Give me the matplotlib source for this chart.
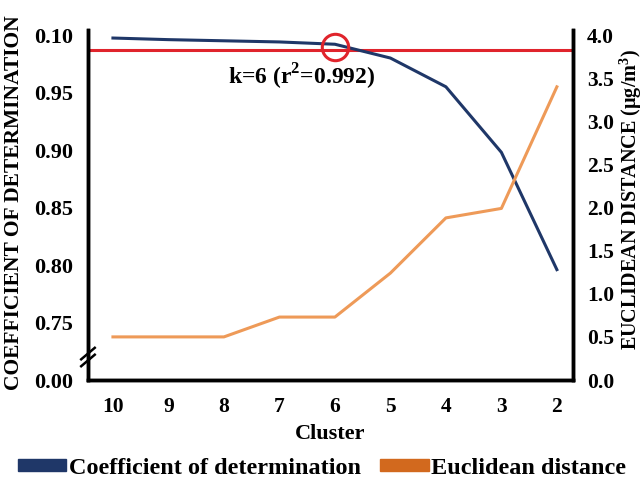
import matplotlib.pyplot as plt
import numpy as np

# Data
clusters = ["10", "9", "8", "7", "6", "5", "4", "3", "2"]
r_squared = [0.9974, 0.996, 0.995, 0.994, 0.992, 0.980, 0.955, 0.898, 0.796]
euclid_dist = [0.50, 0.50, 0.50, 0.73, 0.73, 1.24, 1.88, 1.99, 3.40]
left_ticks = [0.70, 0.75, 0.80, 0.85, 0.90, 0.95, 1.00]
left_tick_labels = ["0.00", "0.75", "0.80", "0.85", "0.90", "0.95", "0.10"]
right_ticks = [0.0, 0.5, 1.0, 1.5, 2.0, 2.5, 3.0, 3.5, 4.0]
threshold = 0.987
chosen_k = "6"

plt.rcParams["font.family"] = ["Liberation Serif", "DejaVu Serif"]
plt.rcParams["font.weight"] = "bold"
plt.rcParams["mathtext.fontset"] = "custom"
plt.rcParams["mathtext.bf"] = "Liberation Serif:bold"
plt.rcParams["mathtext.rm"] = "Liberation Serif:bold"

blue = "#1F3768"
orange = "#EE9A58"
orange_patch = "#D2691E"
red = "#E0242C"

fig = plt.figure(figsize=(6.44, 4.8), dpi=100)
ax = fig.add_axes([0.1366, 0.2083, 0.7531, 0.729])
ax2 = ax.twinx()

x = np.arange(len(clusters))

# Coefficient of determination
ax.plot(x, r_squared, color=blue, lw=2.2, zorder=3)
# threshold line and chosen k marker
ax.axhline(threshold, color=red, lw=2.2, zorder=2)
ki = clusters.index(chosen_k)
ax.plot(x[ki], threshold + 0.0025, "o", ms=19, mfc="none", mec=red, mew=2.2, zorder=4)
ax.text(x[ki] - 0.6, 0.9635, "k=6 (r$^\\mathbf{2}$=0.992)", ha="center", va="center",
        fontsize=17, fontweight="bold")

# Euclidean distance
ax2.plot(x, euclid_dist, color=orange, lw=2.2, zorder=3)

ax.set_xlim(-0.45, len(clusters) - 1 + 0.29)
ax.set_ylim(0.70, 1.0043)
ax2.set_ylim(0.0, 4.058)

ax.set_xticks(x)
ax.set_xticklabels(clusters, fontsize=15.5, fontweight="bold")
ax.set_yticks(left_ticks)
ax.set_yticklabels(left_tick_labels, fontsize=16, fontweight="bold")
ax2.set_yticks(right_ticks)
ax2.set_yticklabels(["%.1f" % v for v in right_ticks], fontsize=15.5, fontweight="bold")
ax.tick_params(axis="y", length=0, pad=11)
ax.tick_params(axis="x", length=0, pad=12)
ax2.tick_params(length=0, pad=10)

for a in (ax, ax2):
    a.spines["top"].set_visible(False)
    for s in ("left", "right", "bottom"):
        a.spines[s].set_linewidth(2.5)

ax.set_xlabel("Cluster", fontsize=16, fontweight="bold", labelpad=5)
fig.text(14 / 644, 0.577, "COEFFICIENT OF DETERMINATION", rotation=90, ha="center",
         va="center", fontsize=15.5, fontweight="bold")
fig.text(631 / 644, 0.585, "EUCLIDEAN DISTANCE (\u03bcg/m$^\\mathbf{3}$)", rotation=90,
         ha="center", va="center", fontsize=14.5, fontweight="bold")

# axis break marks on the left spine
brk = 0.72
for off in (-0.003, 0.003):
    ax.plot([-0.014, 0.014], [brk + off - 0.005, brk + off + 0.005],
            transform=ax.get_yaxis_transform(), color="black", lw=1.8, clip_on=False)

# legend
handles = [plt.Rectangle((0, 0), 1, 1, color=blue),
           plt.Rectangle((0, 0), 1, 1, color=orange_patch)]
fig.legend(handles, ["Coefficient of determination", "Euclidean distance"],
           loc="center", bbox_to_anchor=(0.5, 0.025), ncol=2, frameon=False,
           prop={"size": 17.5, "weight": "bold"}, handlelength=2.0, handleheight=0.4,
           handletextpad=0.1, columnspacing=0.8, borderpad=0, borderaxespad=0)

fig.savefig("out.png", dpi=100)
